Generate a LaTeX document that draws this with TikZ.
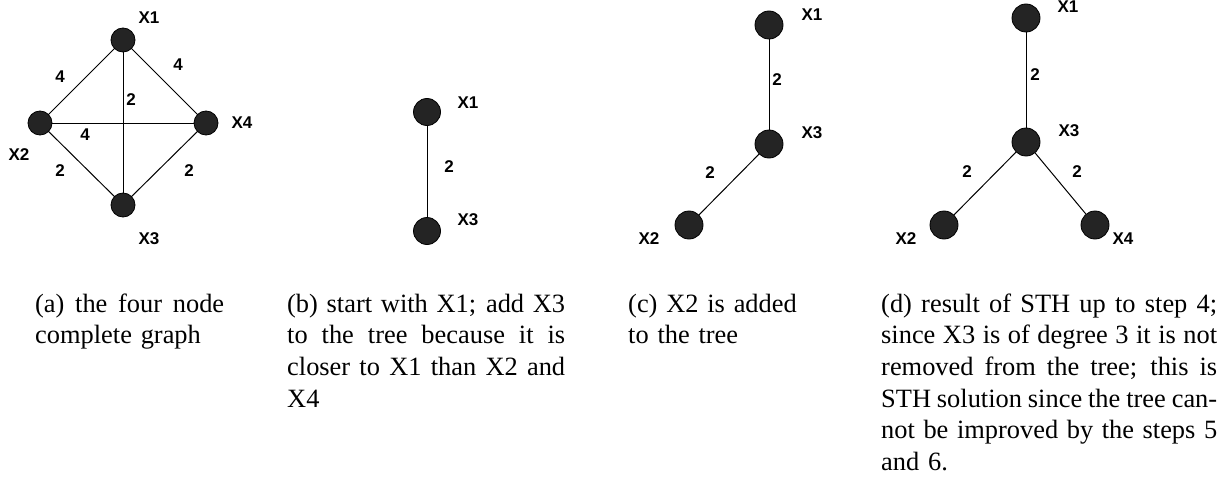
\documentclass[tikz,border=0pt]{standalone}
\usepackage{fontspec}
\setmainfont{Liberation Serif}
\newfontfamily\labfont{Liberation Sans}
\newcommand\jline[2]{\leavevmode\hbox to #1{\spaceskip=0.25em plus 3em minus 0.09em\relax #2}}
\begin{document}
\begin{tikzpicture}[x=1pt,y=-1pt,
  vtx/.style={circle, draw=black, fill=black!86, inner sep=0pt, line width=0.8pt, minimum size=#1},
  vtx/.default=27pt,
  lab/.style={font=\labfont\bfseries\fontsize{17}{20}\selectfont, inner sep=0pt},
  edge/.style={draw=black, line width=1pt},
  captxt/.style={font=\fontsize{26.4}{31.7}\selectfont, anchor=base west, inner sep=0pt}]
\useasboundingbox (0,0) rectangle (1230,476);

% ---------- (a) complete graph ----------
\node[vtx=24pt] (a1) at (123,40) {};
\node[vtx=24pt] (a2) at (40,123) {};
\node[vtx=24pt] (a4) at (206,123) {};
\node[vtx=24pt] (a3) at (123,205) {};
\draw[edge] (a1) -- (a2);
\draw[edge] (a1) -- (a4);
\draw[edge] (a1) -- (a3);
\draw[edge] (a2) -- (a4);
\draw[edge] (a2) -- (a3);
\draw[edge] (a4) -- (a3);
\node[lab] (la1) at (149,18) {X1};
\node[lab] (la4) at (242,123) {X4};
\node[lab] (la2) at (19,155) {X2};
\node[lab] (la3) at (149,239) {X3};
\node[lab] (wa12) at (60,77) {4};
\node[lab] (wa14) at (178,65) {4};
\node[lab] (wa13) at (131,100) {2};
\node[lab] (wa24) at (85,135) {4};
\node[lab] (wa23) at (60,171) {2};
\node[lab] (wa43) at (189,171) {2};

% ---------- (b) ----------
\node[vtx] (b1) at (427,112) {};
\node[vtx] (b3) at (427,231) {};
\draw[edge] (b1) -- (b3);
\node[lab] (lb1) at (468,103) {X1};
\node[lab] (lb3) at (468,220) {X3};
\node[lab] (wb13) at (449,167) {2};

% ---------- (c) ----------
\node[vtx=28pt] (c1) at (769,25) {};
\node[vtx=28pt] (c3) at (769,144) {};
\node[vtx=28pt] (c2) at (689,225) {};
\draw[edge] (c1) -- (c3);
\draw[edge] (c3) -- (c2);
\node[lab] (lc1) at (812,15) {X1};
\node[lab] (lc3) at (812,133) {X3};
\node[lab] (lc2) at (649,239) {X2};
\node[lab] (wc13) at (777,80) {2};
\node[lab] (wc32) at (710,173) {2};

% ---------- (d) ----------
\node[vtx=28pt] (d1) at (1026,18) {};
\node[vtx=28pt] (d3) at (1026,142) {};
\node[vtx=28pt] (d2) at (944,225) {};
\node[vtx=28pt] (d4) at (1095,225) {};
\draw[edge] (d1) -- (d3);
\draw[edge] (d3) -- (d2);
\draw[edge] (d3) -- (d4);
\node[lab] (ld1) at (1068,7) {X1};
\node[lab] (ld3) at (1069,131) {X3};
\node[lab] (ld2) at (906,239) {X2};
\node[lab] (ld4) at (1123,239) {X4};
\node[lab] (wd13) at (1035,75) {2};
\node[lab] (wd32) at (967,172) {2};
\node[lab] (wd34) at (1077,172) {2};

% ---------- captions ----------
\node[captxt, text width=189pt] (capa) at (35,312)
  {\jline{189pt}{(a) the four node}\\complete graph};
\node[captxt, text width=278pt] (capb) at (287,312)
  {\jline{278pt}{(b) start with X1; add X3}\\
   \jline{278pt}{to the tree because it is}\\
   \jline{278pt}{closer to X1 than X2 and}\\X4};
\node[captxt, text width=175pt] (capc) at (628,312)
  {(c) X2 is added\\to the tree};
\node[captxt, text width=336pt] (capd) at (881,312)
  {\jline{336pt}{(d) result of STH up to step 4;}\\
   \jline{336pt}{since X3 is of degree 3 it is not}\\
   \jline{336pt}{removed from the tree; this is}\\
   \jline{336pt}{STH solution since the tree can-}\\
   \jline{336pt}{not be improved by the steps 5}\\and 6.};
\end{tikzpicture}
\end{document}
